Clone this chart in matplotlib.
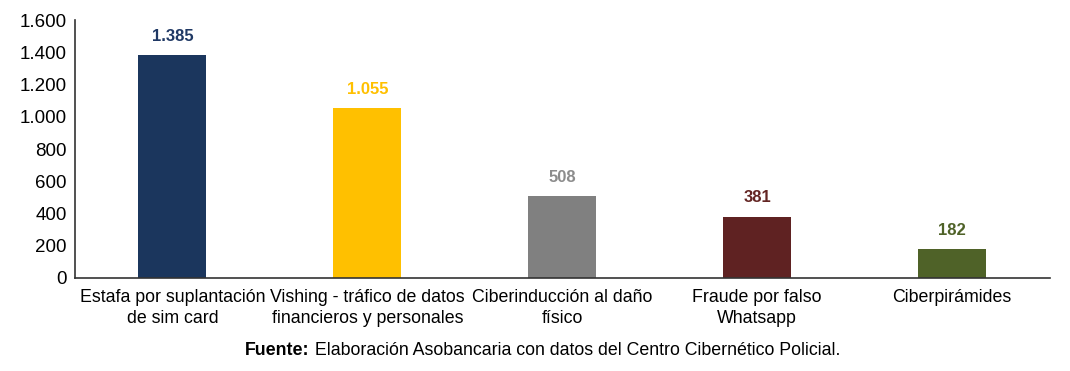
import numpy as np
import matplotlib.pyplot as plt
from matplotlib.ticker import FuncFormatter

plt.rcParams['font.family'] = ['Liberation Sans', 'DejaVu Sans']

categorias = ['Estafa por suplantación\nde sim card',
              'Vishing - tráfico de datos\nfinancieros y personales',
              'Ciberinducción al daño\nfísico',
              'Fraude por falso\nWhatsapp',
              'Ciberpirámides']
valores = [1385, 1055, 508, 381, 182]
colores = ['#1B365D', '#FFC000', '#808080', '#5F2222', '#4F6228']
colores_texto = ['#1F3864', '#FFC000', '#8C8C8C', '#632523', '#4F6228']

fig = plt.figure(figsize=(10.7, 3.71), dpi=100)
ax = fig.add_axes([0.070, 0.2507, 0.911, 0.6953])

x = np.arange(len(valores))
ax.bar(x, valores, width=0.35, color=colores, zorder=2)

def fmt(v):
    return f'{int(v):,}'.replace(',', '.')

for xi, v, c in zip(x, valores, colores_texto):
    ax.annotate(fmt(v), (xi, v), xytext=(0, 8), textcoords='offset points',
                ha='center', va='bottom', fontsize=12, fontweight='bold', color=c)

ax.set_xlim(-0.5, 4.5)
ax.set_ylim(0, 1600)
ax.set_yticks(range(0, 1601, 200))
ax.yaxis.set_major_formatter(FuncFormatter(lambda v, p: fmt(v)))
ax.set_xticks(x)
ax.set_xticklabels(categorias, fontsize=12.8, linespacing=1.3)
ax.tick_params(axis='y', labelsize=13.5)
ax.tick_params(axis='both', length=0, colors='black')
ax.tick_params(axis='x', pad=8)
ax.tick_params(axis='y', pad=6)

for s in ['top', 'right']:
    ax.spines[s].set_visible(False)
for s in ['left', 'bottom']:
    ax.spines[s].set_color('#333333')
    ax.spines[s].set_linewidth(1.2)

# fuente: parte en negrita seguida del resto del texto
t = fig.text(0.229, 0.054, 'Fuente:', ha='left', va='center',
             fontsize=12.8, fontweight='bold')
ax.annotate(' Elaboración Asobancaria con datos del Centro Cibernético Policial.',
            xy=(1, 0.5), xycoords=t, ha='left', va='center', fontsize=12.8,
            annotation_clip=False)

fig.savefig('out.png', dpi=100)
